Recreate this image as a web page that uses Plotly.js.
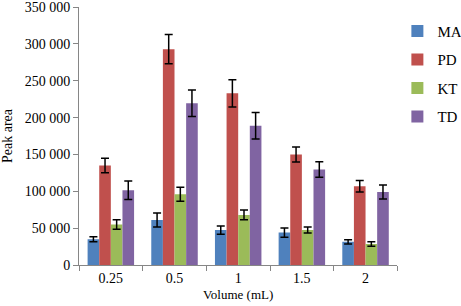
<!DOCTYPE html>
<html>
<head>
<meta charset="utf-8">
<script src="https://cdn.plot.ly/plotly-3.0.1.min.js"></script>
<style>html,body{margin:0;padding:0;background:#fff;}#chart{width:461px;height:306px;}</style>
</head>
<body>
<div id="chart"></div>
<script>
const categories = ["0.25", "0.5", "1", "1.5", "2"];
const seriesNames = ["MA", "PD", "KT", "TD"];
const MA = [35000, 61000, 47500, 44000, 31500];
const PD = [135000, 293000, 233000, 150000, 107000];
const KT = [55000, 96000, 68000, 47500, 28500];
const TD = [101500, 219500, 189000, 129500, 99000];
const MA_err = [3400, 9500, 5600, 6300, 2900];
const PD_err = [9900, 20000, 18500, 10300, 7800];
const KT_err = [6500, 9400, 6700, 4000, 3000];
const TD_err = [12500, 18000, 18000, 10500, 9500];
const colors = ["#4F81BD", "#C0504D", "#9BBB59", "#8064A2"];
const yTickVals = [0, 50000, 100000, 150000, 200000, 250000, 300000, 350000];
const yTickText = ["0", "50 000", "100 000", "150 000", "200 000", "250 000", "300 000", "350 000"];

const values = [MA, PD, KT, TD];
const errs = [MA_err, PD_err, KT_err, TD_err];
const font = "Liberation Serif, Times New Roman, serif";

const traces = seriesNames.map((n, i) => ({
  type: "bar",
  name: n,
  x: categories,
  y: values[i],
  legendgroup: n,
  marker: {color: colors[i]},
  error_y: {type: "data", array: errs[i], visible: true, color: "#000", thickness: 1.5, width: 4}
}));

const layout = {
  width: 461, height: 306,
  margin: {l: 79, r: 38, t: 7, b: 41},
  paper_bgcolor: "#fff", plot_bgcolor: "#fff",
  font: {family: font, size: 14, color: "#000"},
  barmode: "group",
  bargap: 0.27,
  bargroupgap: 0,
  showlegend: true,
  legend: {xref: "container", yref: "container", x: 0.862, xanchor: "left", y: 0.952, yanchor: "top",
           traceorder: "grouped", tracegroupgap: 6,
           font: {family: font, size: 15, color: "#000"}, bgcolor: "rgba(0,0,0,0)"},
  xaxis: {type: "category", showline: true, linecolor: "#868686", linewidth: 1,
          ticks: "outside", tickson: "boundaries", ticklen: 5, tickcolor: "#868686",
          showgrid: false, zeroline: false, automargin: false,
          tickfont: {family: font, size: 14, color: "#000"},
          title: {text: "Volume (mL)", font: {family: font, size: 13, color: "#000"}, standoff: 5}},
  yaxis: {range: [0, 350200], showline: true, linecolor: "#868686", linewidth: 1,
          ticks: "outside", ticklen: 5, tickcolor: "#868686",
          tickvals: yTickVals, ticktext: yTickText, ticklabeloverflow: "allow",
          showgrid: false, zeroline: false, automargin: false,
          tickfont: {family: font, size: 14, color: "#000"},
          title: {text: "Peak area", font: {family: font, size: 14, color: "#000"}, standoff: 8}}
};

Plotly.newPlot("chart", traces, layout, {displayModeBar: false, staticPlot: true});
</script>
</body>
</html>
